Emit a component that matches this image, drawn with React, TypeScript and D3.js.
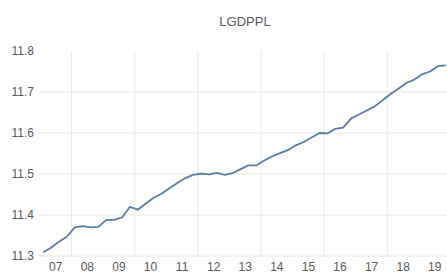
import React, { useRef, useEffect } from 'react';
import * as d3 from 'd3';

// quarterly values, 2007Q1 .. 2019Q4
const years = d3.range(2007, 2020);
const quarters = [1, 2, 3, 4];
const lgdppl = [
  11.309, 11.320, 11.335, 11.347,
  11.370, 11.373, 11.370, 11.371,
  11.388, 11.388, 11.394, 11.420,
  11.413, 11.428, 11.442, 11.452,
  11.465, 11.478, 11.490, 11.498,
  11.501, 11.499, 11.503, 11.498,
  11.502, 11.512, 11.521, 11.521,
  11.533, 11.543, 11.551, 11.558,
  11.570, 11.578, 11.589, 11.600,
  11.599, 11.610, 11.613, 11.635,
  11.645, 11.655, 11.665, 11.680,
  11.695, 11.708, 11.722, 11.730,
  11.743, 11.750, 11.763, 11.765,
];
const yTicks = [11.3, 11.4, 11.5, 11.6, 11.7, 11.8];
const gridValues = [11.3, 11.4, 11.5, 11.6, 11.7];
const gridYears = [2008, 2010, 2012, 2014, 2016, 2018];

const App = () => {
  const svgRef = useRef<SVGSVGElement>(null);

  useEffect(() => {
    const svg = d3.select(svgRef.current);
    svg.selectAll('*').remove();

    const width = 447;
    const height = 275;
    const plotLeft = 39;
    const textColor = '#595959';
    const font = '"Liberation Sans", Arial, sans-serif';

    // one point per quarter, as decimal year
    const points = years.flatMap((yr, yi) =>
      quarters.map((q, qi) => ({ t: yr + (q - 1 + 0.4) / 4, v: lgdppl[yi * 4 + qi] }))
    );

    const x = d3.scaleLinear().domain([2007, 2020]).range([40, 450.5]);
    const y = d3.scaleLinear().domain([11.3, 11.8]).range([256, 51]);

    svg.append('rect').attr('width', width).attr('height', height).attr('fill', '#fff');

    // title
    svg.append('text')
      .attr('x', 245)
      .attr('y', 26)
      .attr('text-anchor', 'middle')
      .attr('font-family', font)
      .attr('font-size', 13)
      .attr('fill', textColor)
      .text('LGDPPL');

    // horizontal gridlines
    svg.append('g')
      .selectAll('line')
      .data(gridValues)
      .join('line')
      .attr('x1', plotLeft)
      .attr('x2', width)
      .attr('y1', d => y(d))
      .attr('y2', d => y(d))
      .attr('stroke', '#e8e8e8')
      .attr('stroke-width', 1);

    // vertical gridlines every two years
    svg.append('g')
      .selectAll('line')
      .data(gridYears)
      .join('line')
      .attr('x1', d => x(d))
      .attr('x2', d => x(d))
      .attr('y1', y(11.8))
      .attr('y2', y(11.3))
      .attr('stroke', '#e8e8e8')
      .attr('stroke-width', 1);

    // y tick labels
    svg.append('g')
      .selectAll('text')
      .data(yTicks)
      .join('text')
      .attr('x', 34)
      .attr('y', d => y(d))
      .attr('dy', '0.35em')
      .attr('text-anchor', 'end')
      .attr('font-family', font)
      .attr('font-size', 12)
      .attr('fill', textColor)
      .text(d => d.toFixed(1));

    // x labels, centred in each year
    svg.append('g')
      .selectAll('text')
      .data(years)
      .join('text')
      .attr('x', d => x(d + 0.5))
      .attr('y', 267)
      .attr('dy', '0.35em')
      .attr('text-anchor', 'middle')
      .attr('font-family', font)
      .attr('font-size', 12)
      .attr('fill', textColor)
      .text(d => String(d % 100).padStart(2, '0'));

    const line = d3.line<{ t: number; v: number }>()
      .x(d => x(d.t))
      .y(d => y(d.v));

    svg.append('path')
      .datum(points)
      .attr('fill', 'none')
      .attr('stroke', '#5a7ca6')
      .attr('stroke-width', 1.8)
      .attr('stroke-linejoin', 'round')
      .attr('d', line);
  }, []);

  return (
    <svg
      ref={svgRef}
      width={447}
      height={275}
      style={{ position: 'absolute', left: 0, top: 0, display: 'block' }}
    />
  );
};

export default App;
